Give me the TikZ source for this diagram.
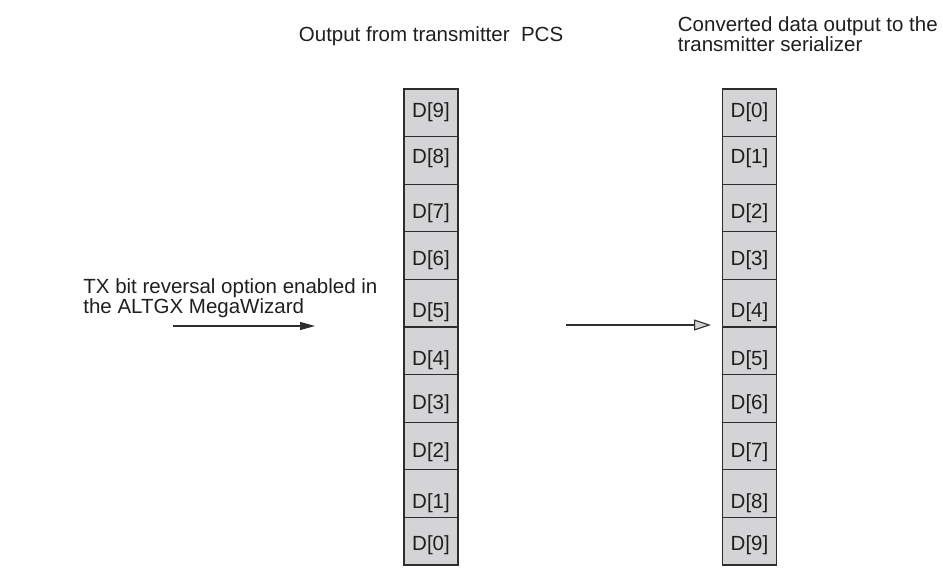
\documentclass[tikz,border=0pt]{standalone}
\usepackage{fontspec}
\setmainfont{Liberation Sans}
\usetikzlibrary{positioning,arrows.meta}
\definecolor{cellgray}{RGB}{212,212,214}
\definecolor{linegray}{RGB}{45,45,45}
\begin{document}
\begin{tikzpicture}[x=0.5pt, y=-0.5pt, node distance=0pt,
      font=\fontsize{10.25}{10}\selectfont, text=black!88,
      cell/.style={draw=linegray, fill=cellgray, line width=0.65pt, rectangle, outer sep=0pt,
        inner ysep=0pt, minimum width=27pt, minimum height=23.8pt, text depth=2.15pt, text centered},
      caption/.style={inner sep=0pt, align=left},
      flow/.style={draw=linegray, line width=0.55pt}]
  \useasboundingbox (0,0) rectangle (943,571);

  \node (pcshead) [caption, anchor=base west] at (298.5,42) {Output from transmitter\ \ PCS};
  \node (serhead) [caption, anchor=north west] at (677.5,16) {Converted data output to the\\transmitter serializer};
  \node (option) [caption, anchor=north west] at (83,278) {TX bit reversal option enabled in\\the ALTGX MegaWizard};

  \node (pcs9) [cell, text height=6.5pt] at (431,112.8) {D[9]};
  \foreach \i/\h [remember=\i as \last (initially 9)] in
      {8/5.5,7/12.5,6/12,5/16.5,4/17,3/13.5,2/13.5,1/17,0/11}
    \node (pcs\i) [cell, text height=\h pt, below=of pcs\last] {D[\i]};

  \node (ser0) [cell, text height=6.5pt] at (749.5,112.8) {D[0]};
  \foreach \i/\h [remember=\i as \last (initially 0)] in
      {1/5.5,2/12.5,3/12,4/16.5,5/17,6/13.5,7/13.5,8/17,9/11}
    \node (ser\i) [cell, text height=\h pt, below=of ser\last] {D[\i]};

  \coordinate (optfrom) at (173,326);
  \coordinate (optto) at (315,326);
  \coordinate (convfrom) at (566,325);
  \coordinate (convto) at (711,325);

  \draw[flow, -{Triangle[length=7.5pt,width=4pt]}] (optfrom) -- (optto);
  \draw[flow, -{Triangle[open,fill=cellgray,length=8.5pt,width=5.5pt]}] (convfrom) -- (convto);
\end{tikzpicture}
\end{document}
